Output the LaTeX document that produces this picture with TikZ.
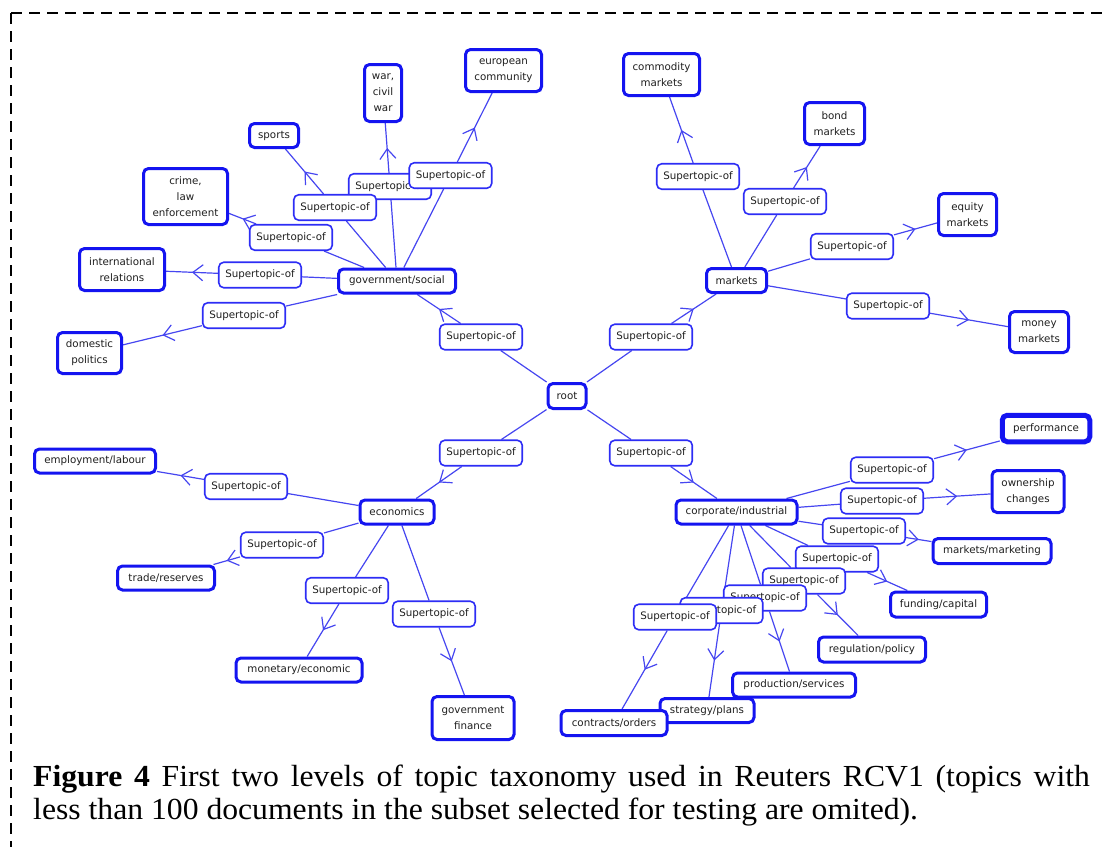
\documentclass[tikz,border=0pt]{standalone}
\usepackage{fontspec}
\setmainfont{DejaVu Sans}
\newfontfamily\captionserif{Liberation Serif}
\usetikzlibrary{arrows.meta,decorations.markings}
\pgfdeclarelayer{background}
\pgfsetlayers{background,main}
\definecolor{boxblue}{RGB}{20,20,240}
\definecolor{relblue}{RGB}{45,45,245}
\definecolor{lineblue}{RGB}{70,70,240}

\begin{document}
\begin{tikzpicture}[x=1pt,y=-1pt,
  every node/.style={font=\fontsize{10.3}{16}\selectfont, text=black!88},
  topic/.style={draw=boxblue, line width=3pt, rounded corners=5pt, fill=white, align=center, inner sep=1pt},
  rel/.style={draw=relblue, line width=1.6pt, rounded corners=5pt, fill=white,
    minimum width=82.5pt, minimum height=25.5pt, inner sep=1pt},
  link/.style={draw=lineblue, line width=1.2pt},
  linkto/.style={link, postaction={decorate}, decoration={markings,
    mark=at position 0.5 with {\arrow[lineblue, line width=1.2pt]{Straight Barb[length=10pt,width=16pt]}}}},
  sz/.style 2 args={minimum width=#1pt, minimum height=#2pt}
]
\useasboundingbox (0,0) rectangle (1105,846);

% frame
\draw[line width=2pt, dash pattern=on 11pt off 7pt] (11,13) -- (11,852);
\draw[line width=2pt, dash pattern=on 11pt off 7pt] (11,13) -- (1112,13);

% first level
\node[topic, sz={38}{25}]  (root) at (567,396)   {root};
\node[topic, sz={117}{24}] (gov)  at (397,281)   {government/social};
\node[topic, sz={60}{24}]  (mkts) at (736.5,280.5) {markets};
\node[topic, sz={74}{24}]  (econ) at (397,512)   {economics};
\node[topic, sz={121}{24}] (corp) at (736.5,512) {corporate/industrial};

% government/social topics
\node[topic, sz={76}{42}] (euro)     at (503.5,70.5) {european\\community};
\node[topic, sz={37}{57}] (war)      at (383,93)     {war,\\civil\\war};
\node[topic, sz={49}{24}] (sports)   at (274,135.5)  {sports};
\node[topic, sz={84}{56}] (crime)    at (185.5,196.5) {crime,\\law\\enforcement};
\node[topic, sz={85}{42}] (intl)     at (122,269.5)  {international\\relations};
\node[topic, sz={64}{41}] (domestic) at (89.5,353)   {domestic\\politics};

% markets topics
\node[topic, sz={76}{42}] (commodity) at (661.5,74.5) {commodity\\markets};
\node[topic, sz={60}{42}] (bond)      at (834.5,123.5) {bond\\markets};
\node[topic, sz={58}{42}] (equity)    at (967.5,214.5) {equity\\markets};
\node[topic, sz={59}{41}] (money)     at (1039,332)   {money\\markets};

% economics topics
\node[topic, sz={121}{24}] (employ)   at (95,461)  {employment/labour};
\node[topic, sz={97}{24}]  (trade)    at (166,578) {trade/reserves};
\node[topic, sz={126}{24}] (monetary) at (299,670) {monetary/economic};
\node[topic, sz={82}{43}]  (govfin)   at (473,718) {government\\finance};

% corporate/industrial topics
\node[topic, line width=5pt, sz={87.5}{26.5}] (perf) at (1046,428.5) {performance};
\node[topic, sz={72}{42}]  (owner)   at (1028,491.5) {ownership\\changes};
\node[topic, sz={118}{25}] (mktg)    at (992,551)    {markets/marketing};
\node[topic, sz={96}{25}]  (funding) at (938.5,604.5) {funding/capital};
\node[topic, sz={107}{25}] (regul)   at (872,649.5)  {regulation/policy};
\node[topic, sz={123}{24}] (prod)    at (794,685)    {production/services};
\node[topic, sz={94}{24}]  (strat)   at (707,710.5)  {strategy/plans};
\node[topic, sz={106}{25}] (contr)   at (614,723)    {contracts/orders};

% relation labels
\node[rel] (rgov)  at (481,337) {Supertopic-of};
\node[rel] (rmkts) at (651,337) {Supertopic-of};
\node[rel] (recon) at (481,453) {Supertopic-of};
\node[rel] (rcorp) at (651,453) {Supertopic-of};

\node[rel] (rwar)    at (390,186.5) {Supertopic-of};
\node[rel] (rsports) at (335,207.5) {Supertopic-of};
\node[rel] (reuro)   at (450.5,175.5) {Supertopic-of};
\node[rel] (rcrime)  at (291,237.5) {Supertopic-of};
\node[rel] (rintl)   at (260,275)   {Supertopic-of};
\node[rel] (rdom)    at (244,315.5) {Supertopic-of};

\node[rel] (rcomm)   at (698,176.5) {Supertopic-of};
\node[rel] (rbond)   at (785,201.5) {Supertopic-of};
\node[rel] (requity) at (852,246.5) {Supertopic-of};
\node[rel] (rmoney)  at (888,306)   {Supertopic-of};

\node[rel] (remploy) at (246,486.5) {Supertopic-of};
\node[rel] (rtrade)  at (282,545)   {Supertopic-of};
\node[rel] (rmonet)  at (347,590.5) {Supertopic-of};
\node[rel] (rgovfin) at (434,614)   {Supertopic-of};

\node[rel] (rperf)  at (892,470)   {Supertopic-of};
\node[rel] (rowner) at (882,501)   {Supertopic-of};
\node[rel] (rmktg)  at (864,531)   {Supertopic-of};
\node[rel] (rfund)  at (837,559)   {Supertopic-of};
\node[rel] (rregul) at (804,581)   {Supertopic-of};
\node[rel] (rprod)  at (765,598)   {Supertopic-of};
\node[rel] (rstrat) at (721.5,610.5) {Supertopic-of};
\node[rel] (rcontr) at (675,617)   {Supertopic-of};

% connectors: parent -- relation label -> child
\begin{pgfonlayer}{background}
\foreach \a/\b/\c in {root/rgov/gov, root/rmkts/mkts, root/recon/econ, root/rcorp/corp,
  gov/reuro/euro, gov/rwar/war, gov/rsports/sports, gov/rcrime/crime, gov/rintl/intl, gov/rdom/domestic,
  mkts/rcomm/commodity, mkts/rbond/bond, mkts/requity/equity, mkts/rmoney/money,
  econ/remploy/employ, econ/rtrade/trade, econ/rmonet/monetary, econ/rgovfin/govfin,
  corp/rperf/perf, corp/rowner/owner, corp/rmktg/mktg, corp/rfund/funding,
  corp/rregul/regul, corp/rprod/prod, corp/rstrat/strat, corp/rcontr/contr}
{\draw[link] (\a) -- (\b); \draw[linkto] (\b) -- (\c);}
\end{pgfonlayer}

% caption
\node[anchor=base west, inner sep=0pt, text=black,
  font=\captionserif\fontsize{30.6}{33}\selectfont] (caption) at (33,786)
  {\scalebox{1.035}[1]{\parbox[t]{1021pt}{\makebox[1021pt][s]{\textbf{Figure 4} First two levels of topic taxonomy used in Reuters RCV1 (topics with}\\
   less than 100 documents in the subset selected for testing are omited).}}};
\end{tikzpicture}
\end{document}
